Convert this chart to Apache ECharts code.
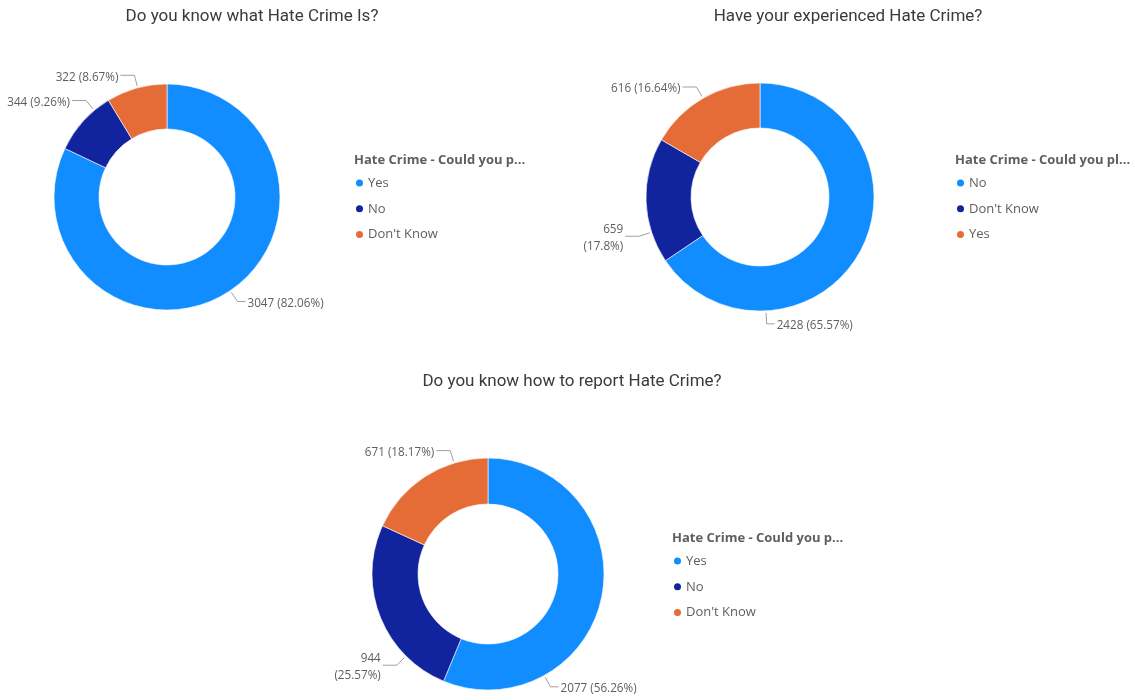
<!DOCTYPE html>
<html>
<head>
<meta charset="utf-8">
<script src="https://cdn.jsdelivr.net/npm/echarts@6/dist/echarts.min.js"></script>
<style>
  html, body { margin: 0; padding: 0; background: #ffffff; }
  #chart { width: 1135px; height: 700px; }
</style>
</head>
<body>
<div id="chart"></div>
<script>
// Survey answers, one donut per question
const chart1Title = 'Do you know what Hate Crime Is?';
const chart1LegendTitle = 'Hate Crime - Could you p...';
const chart1Categories = ['Yes', 'No', "Don't Know"];
const chart1Values = [3047, 344, 322];

const chart2Title = 'Have your experienced Hate Crime?';
const chart2LegendTitle = 'Hate Crime - Could you pl...';
const chart2Categories = ['No', "Don't Know", 'Yes'];
const chart2Values = [2428, 659, 616];

const chart3Title = 'Do you know how to report Hate Crime?';
const chart3LegendTitle = 'Hate Crime - Could you p...';
const chart3Categories = ['Yes', 'No', "Don't Know"];
const chart3Values = [2077, 944, 671];

// Slice colours, applied in data order
const sliceColors = ['#118DFF', '#12239E', '#E66C37'];

// Layout of each donut panel: centre, radii, title / legend placement,
// the angle (degrees clockwise from 12 o'clock) where each leader line leaves the ring,
// and which labels break onto two lines
const panels = [
  { title: chart1Title, legendTitle: chart1LegendTitle, cats: chart1Categories, vals: chart1Values,
    center: [167, 197], radius: [68, 113], titleX: 252, titleY: 8,
    legendX: 354, legendY: 154, labelAngles: [146, 320, 345], wrap: [] },
  { title: chart2Title, legendTitle: chart2LegendTitle, cats: chart2Categories, vals: chart2Values,
    center: [760, 197], radius: [69, 114], titleX: 848, titleY: 8,
    legendX: 955, legendY: 154, labelAngles: [177, 252, 330], wrap: [1] },
  { title: chart3Title, legendTitle: chart3LegendTitle, cats: chart3Categories, vals: chart3Values,
    center: [488, 574], radius: [70, 116], titleX: 572, titleY: 373,
    legendX: 672, legendY: 532, labelAngles: [151, 225, 343], wrap: [1] }
];

const textFont = "'Open Sans', 'Noto Sans', sans-serif";
const labelGrey = '#605E5C';

function pctText(v, total) {
  return parseFloat((v / total * 100).toFixed(2)).toString() + '%';
}

const titles = [];
const legends = [];
const series = [];

panels.forEach(function (p) {
  const total = p.vals.reduce(function (a, b) { return a + b; }, 0);

  titles.push({
    text: p.title, left: p.titleX, top: p.titleY, textAlign: 'center', padding: 0,
    textStyle: { fontFamily: 'Roboto, sans-serif', fontSize: 17, fontWeight: 'normal', color: '#3b3a39' }
  });
  titles.push({
    text: p.legendTitle, left: p.legendX, top: p.legendY, padding: 0,
    textStyle: { fontFamily: textFont, fontSize: 13, fontWeight: 'bold', color: '#605E5C' }
  });

  legends.push({
    orient: 'vertical', left: p.legendX, top: p.legendY + 22,
    icon: 'circle', itemWidth: 9, itemHeight: 9, itemGap: 11.8,
    padding: 0, selectedMode: false,
    textStyle: { fontFamily: textFont, fontSize: 13, color: '#605E5C', lineHeight: 14, padding: [0, 0, 0, -1] },
    data: p.cats.map(function (c, i) { return { name: c, itemStyle: { color: sliceColors[i] } }; })
  });

  series.push({
    type: 'pie',
    center: p.center,
    radius: p.radius,
    startAngle: 90,
    clockwise: true,
    avoidLabelOverlap: false,
    silent: true,
    itemStyle: { borderColor: '#ffffff', borderWidth: 0.6 },
    data: p.cats.map(function (c, i) {
      return { name: c, value: p.vals[i], itemStyle: { color: sliceColors[i] } };
    }),
    label: {
      show: true,
      fontFamily: textFont,
      fontSize: 11.7,
      lineHeight: 17,
      color: labelGrey,
      formatter: function (params) {
        const sep = p.wrap.indexOf(params.dataIndex) >= 0 ? '\n' : ' ';
        return params.value + sep + '(' + pctText(params.value, total) + ')';
      }
    },
    labelLine: { show: true, length: 10, length2: 10, lineStyle: { color: '#a19f9d', width: 1 } },
    labelLayout: function (params) {
      const a = p.labelAngles[params.dataIndex] * Math.PI / 180;
      const dx = Math.sin(a), dy = -Math.cos(a);
      const r0 = p.radius[1] + 2, r1 = p.radius[1] + 13;
      const x0 = p.center[0] + r0 * dx, y0 = p.center[1] + r0 * dy;
      const x1 = p.center[0] + r1 * dx, y1 = p.center[1] + r1 * dy;
      const right = dx >= 0;
      const x2 = x1 + (right ? 8 : -14);
      return {
        x: x2 + (right ? 2 : -2),
        y: y1 + 2,
        align: right ? 'left' : 'right',
        verticalAlign: 'middle',
        labelLinePoints: [[x0, y0], [x1, y1], [x2, y1]]
      };
    }
  });
});

const chart = echarts.init(document.getElementById('chart'));
chart.setOption({
  backgroundColor: '#ffffff',
  animation: false,
  title: titles,
  legend: legends,
  series: series
});
</script>
</body>
</html>
